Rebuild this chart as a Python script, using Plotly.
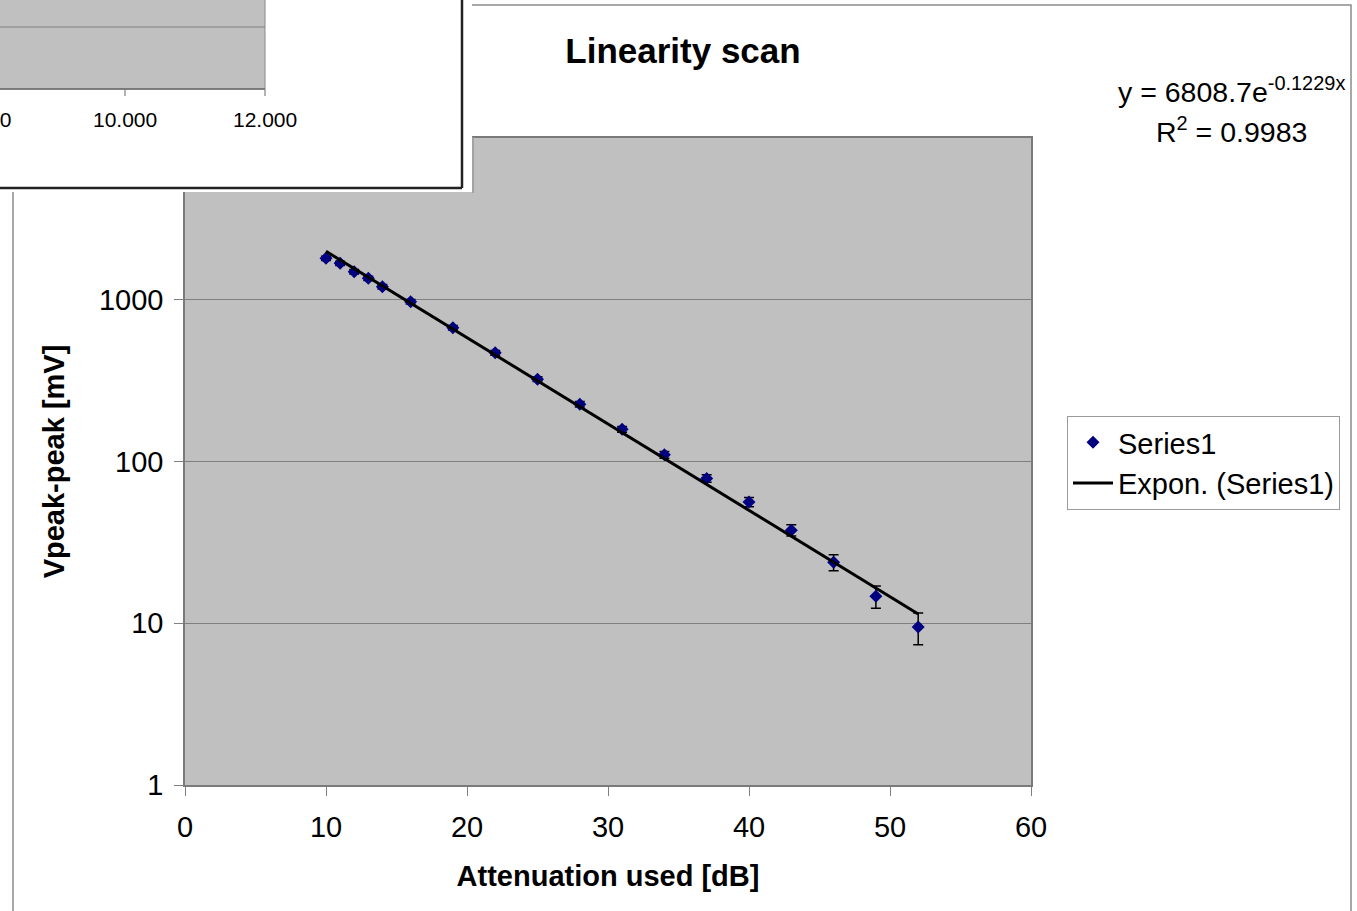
import numpy as np
import plotly.graph_objects as go

# ---- data -------------------------------------------------------------
attenuation_db = [10, 11, 12, 13, 14, 16, 19, 22, 25, 28, 31, 34, 37, 40, 43, 46, 49, 52]
vpeak_mv = [1804, 1680, 1490, 1356, 1203, 972, 671, 470, 323, 226, 158, 110,
            78.5, 56.2, 37.6, 23.8, 14.7, 9.47]
vpeak_err_mv = [56, 52, 47, 43, 38, 31, 22, 16, 11, 8.6, 6.5, 5.1,
                4.2, 3.6, 3.0, 2.7, 2.3, 2.1]

# exponential trend line y = A * exp(B * x)
fit_a = 6808.7
fit_b = -0.1229
fit_r2 = 0.9983

x_tick_vals = [0, 10, 20, 30, 40, 50, 60]
y_tick_vals = [1, 10, 100, 1000]
y_tick_text = ["1", "10", "100", "1000"]

# small embedded panel in the top-left corner (partial axis)
inset_tick_px = [-15, 125, 265]
inset_tick_text = ["8.000", "10.000", "12.000"]

# ---- geometry -----------------------------------------------------------
W, H = 1357, 911
ML, MR, MT, MB = 185, 326, 138, 126
FONT = "Liberation Sans, Arial, sans-serif"
GRID = "#808080"


def px_x(p):
    return (p - ML) / (W - ML - MR)


def px_y(p):
    return (H - MB - p) / (H - MT - MB)


fit_x = np.linspace(attenuation_db[0], attenuation_db[-1], 60)
fit_y = fit_a * np.exp(fit_b * fit_x)

fig = go.Figure()

fig.add_trace(go.Scatter(
    x=attenuation_db, y=vpeak_mv, mode="markers", name="Series1",
    marker=dict(symbol="diamond", size=10, color="#000080"),
    error_y=dict(type="data", array=vpeak_err_mv, visible=True,
                 color="black", thickness=1.5, width=5),
))
fig.add_trace(go.Scatter(
    x=fit_x, y=fit_y, mode="lines", name="Expon. (Series1)",
    line=dict(color="black", width=3),
))


def line(x0, y0, x1, y1, color, width):
    return dict(type="line", xref="paper", yref="paper", layer="above",
                x0=px_x(x0), y0=px_y(y0), x1=px_x(x1), y1=px_y(y1),
                line=dict(color=color, width=width))


def rect(x0, y0, x1, y1, fill, color=None, width=0):
    return dict(type="rect", xref="paper", yref="paper", layer="above",
                x0=px_x(x0), y0=px_y(y0), x1=px_x(x1), y1=px_y(y1),
                fillcolor=fill, line=dict(color=color or fill, width=width))


shapes = [
    # outer chart frame
    rect(13, 5, 1351, 930, "rgba(0,0,0,0)", "#8c8c8c", 1.5),
    # embedded panel
    rect(-30, -30, 472, 192, "white"),
    line(473, 137, 473, 193, "#9a9a9a", 1.5),
    rect(-30, -30, 265, 89, "#c0c0c0", "#8a8a8a", 1),
    line(-30, 27, 265, 27, GRID, 1.2),
    line(-30, 89, 265, 89, "#6a6a6a", 1.5),
    line(462, -30, 462, 188, "#222222", 2.5),
    line(-30, 188, 462, 188, "#222222", 2.5),
]
for tp in inset_tick_px[1:]:
    shapes.append(line(tp, 89, tp, 96, GRID, 1.2))

annotations = []
for tp, tt in zip(inset_tick_px, inset_tick_text):
    annotations.append(dict(
        xref="paper", yref="paper", x=px_x(tp), y=px_y(120),
        xanchor="center", yanchor="middle", showarrow=False, text=tt,
        font=dict(family=FONT, size=21, color="black"),
    ))

annotations.append(dict(
    xref="paper", yref="paper", x=px_x(1231), y=px_y(110),
    xanchor="center", yanchor="bottom", showarrow=False,
    text=f"y = {fit_a}e<sup>{fit_b}x</sup>",
    font=dict(family=FONT, size=28.5, color="black"),
))
annotations.append(dict(
    xref="paper", yref="paper", x=px_x(1231), y=px_y(150),
    xanchor="center", yanchor="bottom", showarrow=False,
    text=f"R<sup>2</sup> = {fit_r2}",
    font=dict(family=FONT, size=28.5, color="black"),
))

fig.update_layout(
    width=W, height=H,
    margin=dict(l=ML, r=MR, t=MT, b=MB, pad=0),
    paper_bgcolor="white",
    plot_bgcolor="#c0c0c0",
    font=dict(family=FONT, size=29, color="black"),
    title=dict(text="Linearity scan", x=683 / W, xref="container",
               xanchor="center", y=1 - 51 / H, yanchor="middle",
               font=dict(family=FONT, size=35, color="black", weight="bold")),
    showlegend=True,
    legend=dict(x=px_x(1067), y=px_y(416), xanchor="left", yanchor="top",
                bgcolor="white", bordercolor="#9a9a9a", borderwidth=1,
                font=dict(family=FONT, size=29, color="black"),
                itemwidth=40, tracegroupgap=0),
    shapes=shapes,
    annotations=annotations,
)

fig.update_xaxes(
    range=[0, 60], tickvals=x_tick_vals, showgrid=False, zeroline=False,
    showline=True, mirror=True, linecolor="#7a7a7a", linewidth=1.5,
    ticks="outside", ticklen=9, tickcolor=GRID, tickwidth=1,
    ticklabelstandoff=6,
    tickfont=dict(family=FONT, size=29, color="black"),
    title=dict(text="Attenuation used [dB]", standoff=24,
               font=dict(family=FONT, size=29, color="black", weight="bold")),
)
fig.update_yaxes(
    type="log", range=[0, 4], tickvals=y_tick_vals, ticktext=y_tick_text,
    showgrid=True, gridcolor=GRID, gridwidth=1.2, zeroline=False,
    showline=True, mirror=True, linecolor="#7a7a7a", linewidth=1.5,
    ticks="outside", ticklen=9, tickcolor=GRID, tickwidth=1,
    ticklabelstandoff=5,
    tickfont=dict(family=FONT, size=29, color="black"),
    title=dict(text="Vpeak-peak [mV]", standoff=26,
               font=dict(family=FONT, size=29, color="black", weight="bold")),
)

fig.write_html("out.html")
